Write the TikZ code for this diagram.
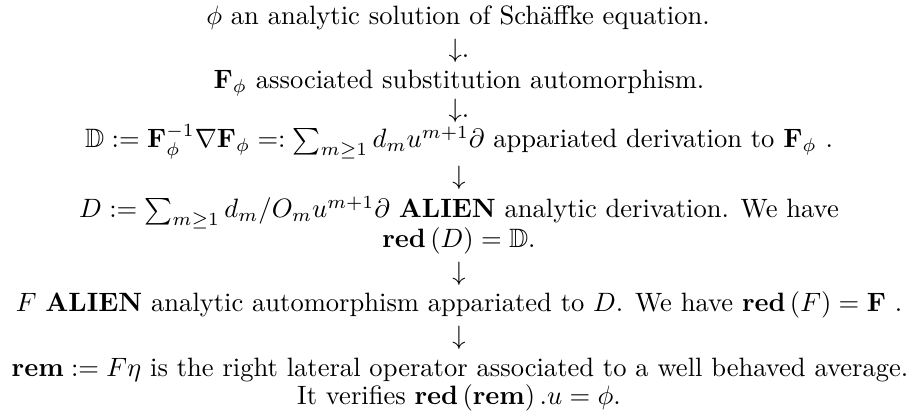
\documentclass[tikz,border=0pt]{standalone}
\usepackage{amsmath}
\usepackage{amssymb}

\begin{document}
\begin{tikzpicture}[x=0.3767pt, y=-0.3767pt, every node/.style={anchor=base, inner sep=0pt}]
		\useasboundingbox (0,0) rectangle (913,417);
		\node (sol) at (458,25) {$\phi$ an analytic solution of Sch\"affke equation.};
		\node (a1) at (459,58) {$\downarrow$.};
		\node (subst) at (459,89) {$\mathbf{F}_\phi$ associated substitution automorphism.};
		\node (a2) at (459,118) {$\downarrow$.};
		\node (deriv) at (459,148) {$\mathbb{D}:=\mathbf{F}_\phi^{-1}\nabla\mathbf{F}_\phi=:\sum_{m\geq 1}d_m u^{m+1}\partial$ appariated derivation to $\mathbf{F}_\phi$ .};
		\node (a3) at (459,185) {$\downarrow$};
		\node (alien) at (459,218) {$D:=\sum_{m\geq 1}d_m/O_m u^{m+1}\partial$ \textbf{ALIEN} analytic derivation. We have};
		\node (alien2) at (459,248) {$\mathbf{red}\left(D\right)=\mathbb{D}$.};
		\node (a4) at (459,281) {$\downarrow$};
		\node (autom) at (459,312) {$F$ \textbf{ALIEN} analytic automorphism appariated to $D$. We have $\mathbf{red}\left(F\right)=\mathbf{F}$ .};
		\node (a5) at (459,345) {$\downarrow$};
		\node (rem) at (460,377) {$\mathbf{rem}:=F\eta$ is the right lateral operator associated to a well behaved average.};
		\node (rem2) at (459,405) {It verifies $\mathbf{red}\left(\mathbf{rem}\right).u=\phi$.};
\end{tikzpicture}
\end{document}
